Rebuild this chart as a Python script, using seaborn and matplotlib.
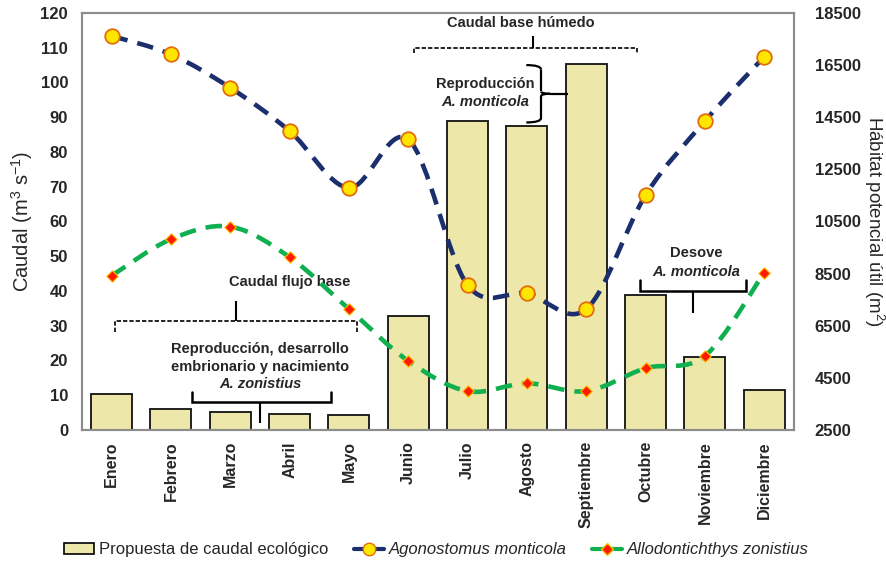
import numpy as np
import matplotlib
matplotlib.use("Agg")
import matplotlib.pyplot as plt
from matplotlib.path import Path
from matplotlib.patches import PathPatch, Patch
from matplotlib.lines import Line2D
import seaborn as sns
import pandas as pd

# data
months = ['Enero', 'Febrero', 'Marzo', 'Abril', 'Mayo', 'Junio', 'Julio',
          'Agosto', 'Septiembre', 'Octubre', 'Noviembre', 'Diciembre']
caudal = [10.3, 6.0, 5.1, 4.6, 4.4, 32.8, 88.9, 87.5, 105.3, 38.8, 21.1, 11.5]
habitat_monticola = [17620, 16910, 15630, 13970, 11790, 13650, 8060, 7740,
                     7140, 11510, 14350, 16820]
habitat_zonistius = [8420, 9820, 10300, 9130, 7140, 5150, 3990, 4290, 3990,
                     4870, 5340, 8540]

left_ticks = list(range(0, 121, 10))
right_ticks = list(range(2500, 18501, 2000))

sns.set_style("white")
plt.rcParams['font.family'] = ['Liberation Sans', 'DejaVu Sans']
plt.rcParams['mathtext.default'] = 'regular'

BAR_COLOR = '#EDE8AA'
NAVY = '#1B2F6E'
GREEN = '#10B050'
LW = 1.6


def smooth_path(xs, ys):
    # excel-like smoothed line: bezier segments through the data points
    pts = np.column_stack([xs, ys]).astype(float)
    n = len(pts)
    verts = [pts[0]]
    codes = [Path.MOVETO]
    for i in range(n - 1):
        p0 = pts[i - 1] if i > 0 else pts[i]
        p1 = pts[i]
        p2 = pts[i + 1]
        p3 = pts[i + 2] if i + 2 < n else pts[i + 1]
        c1 = p1 + (p2 - p0) / 6.0
        c2 = p2 - (p3 - p1) / 6.0
        verts += [c1, c2, p2]
        codes += [Path.CURVE4] * 3
    return Path(verts, codes)


def curve(ax, p0, p1, p2):
    ax.add_patch(PathPatch(Path([p0, p1, p2], [Path.MOVETO, Path.CURVE3, Path.CURVE3]),
                           fill=False, lw=LW, color='black', clip_on=False))


def curly_brace(ax, x, y0, y1, w, tip):
    # "}" shaped brace, opening to the left
    h = y1 - y0
    ym = (y0 + y1) / 2
    xc = x + w
    curve(ax, (x, y1), (xc, y1), (xc, y1 - 0.08 * h))
    ax.plot([xc, xc], [y1 - 0.08 * h, ym + 0.04 * h], color='black', lw=LW,
            solid_capstyle='butt', clip_on=False)
    curve(ax, (xc, ym + 0.04 * h), (xc, ym), (x + 1.6 * w, ym))
    ax.plot([x + 1.6 * w, xc + tip], [ym, ym], color='black', lw=LW,
            solid_capstyle='butt', clip_on=False)
    curve(ax, (x + 1.6 * w, ym), (xc, ym), (xc, ym - 0.04 * h))
    ax.plot([xc, xc], [ym - 0.04 * h, y0 + 0.08 * h], color='black', lw=LW,
            solid_capstyle='butt', clip_on=False)
    curve(ax, (xc, y0 + 0.08 * h), (xc, y0), (x, y0))


def square_bracket(ax, x0, x1, y, end, tick_y, tick_x, ls='-', lw=1.6):
    # horizontal bracket with ends to y+end and a center stem to tick_y
    ax.plot([x0, x0, x1, x1], [y + end, y, y, y + end], color='black',
            lw=lw, ls=ls, clip_on=False, solid_joinstyle='miter')
    ax.plot([tick_x, tick_x], [y, tick_y], color='black', lw=1.5,
            clip_on=False, solid_capstyle='butt')


fig = plt.figure(figsize=(8.87, 5.64), dpi=100)
ax = fig.add_axes([0.0924, 0.2376, 0.8026, 0.7394])

df = pd.DataFrame({'mes': months, 'caudal': caudal})
sns.barplot(data=df, x='mes', y='caudal', color=BAR_COLOR, saturation=1,
            edgecolor='#111111', linewidth=1.3, width=0.69, ax=ax)
ax.set_xlim(-0.5, 11.5)
ax.set_ylim(0, 120)
ax.set_yticks(left_ticks)
ax.set_xlabel('')
ax.set_ylabel('Caudal (m$^3$ s$^{-1}$)', fontsize=14.5, labelpad=4)
ax.tick_params(axis='y', length=0, labelsize=12, pad=10)
ax.tick_params(axis='x', length=0, pad=8)
for lab in ax.get_yticklabels():
    lab.set_fontweight('bold')
for lab in ax.get_xticklabels():
    lab.set_fontweight('bold')
    lab.set_rotation(90)
    lab.set_fontsize(11.5)

ax2 = ax.twinx()
ax2.set_ylim(2500, 18500)
ax2.set_yticks(right_ticks)
ax2.tick_params(axis='y', length=0, labelsize=12, pad=15)
for lab in ax2.get_yticklabels():
    lab.set_fontweight('bold')
ax2.set_ylabel('Hábitat potencial útil (m$^2$)', fontsize=13.5, rotation=270,
               labelpad=18)

for a in (ax, ax2):
    for s in a.spines.values():
        s.set_color('#8C8C8C')
        s.set_linewidth(1.5)

xpos = np.arange(len(months))
for vals, col in ((habitat_monticola, NAVY), (habitat_zonistius, GREEN)):
    ax2.add_patch(PathPatch(smooth_path(xpos, vals), fill=False, edgecolor=col,
                            lw=3.3, ls=(0, (3.6, 2.2)), capstyle='butt'))

sns.scatterplot(x=xpos, y=habitat_monticola, marker='o', s=110, color='#FFE600',
                edgecolor='#E46C0A', linewidth=1.3, ax=ax2, zorder=5)
sns.scatterplot(x=xpos, y=habitat_zonistius, marker='D', s=34, color='#FF1A00',
                edgecolor='#FFC000', linewidth=0.8, ax=ax2, zorder=5)

# annotations (left-axis data coordinates)
FS = 10.5
ax.text(6.9, 117.0, 'Caudal base húmedo', ha='center', va='center',
        fontsize=FS, fontweight='bold')
square_bracket(ax, 5.1, 8.85, 109.8, -1.2, 113.5, 7.1, ls=(0, (2.6, 1.2)), lw=1.2)

ax.text(6.3, 99.5, 'Reproducción', ha='center', va='center', fontsize=FS,
        fontweight='bold')
ax.text(6.3, 94.3, 'A. monticola', ha='center', va='center', fontsize=FS,
        fontweight='bold', style='italic')
curly_brace(ax, 6.99, 88.5, 105.0, 0.25, 0.46)

ax.text(3.0, 42.5, 'Caudal flujo base', ha='center', va='center',
        fontsize=FS, fontweight='bold')
square_bracket(ax, 0.05, 4.14, 31.4, -3.2, 37.2, 2.1, ls=(0, (2.6, 1.2)), lw=1.2)

ax.text(2.5, 23.3, 'Reproducción, desarrollo', ha='center', va='center',
        fontsize=FS, fontweight='bold')
ax.text(2.5, 18.2, 'embrionario y nacimiento', ha='center', va='center',
        fontsize=FS, fontweight='bold')
ax.text(2.5, 13.3, 'A. zonistius', ha='center', va='center', fontsize=FS,
        fontweight='bold', style='italic')
square_bracket(ax, 1.35, 3.7, 8.0, 2.8, 2.0, 2.5, lw=1.8)

ax.text(9.85, 50.8, 'Desove', ha='center', va='center', fontsize=FS,
        fontweight='bold')
ax.text(9.85, 45.5, 'A. monticola', ha='center', va='center', fontsize=FS,
        fontweight='bold', style='italic')
square_bracket(ax, 8.9, 10.7, 40.0, 3.3, 33.8, 9.8, lw=1.8)

handles = [
    Patch(facecolor=BAR_COLOR, edgecolor='black', linewidth=1.2),
    Line2D([], [], color=NAVY, lw=3, marker='o', markersize=9,
           markerfacecolor='#FFE600', markeredgecolor='#E46C0A'),
    Line2D([], [], color=GREEN, lw=3, marker='D', markersize=6,
           markerfacecolor='#FF1A00', markeredgecolor='#FFC000'),
]
labels = ['Propuesta de caudal ecológico', 'Agonostomus monticola',
          'Allodontichthys zonistius']
leg = fig.legend(handles, labels, loc='center', bbox_to_anchor=(0.492, 0.025),
                 ncol=3, frameon=False, handlelength=1.8, handleheight=0.7,
                 handletextpad=0.3, columnspacing=1.5,
                 prop={'size': 12})
for t in leg.get_texts()[1:]:
    t.set_style('italic')

fig.savefig('out.png', dpi=100)
plt.close(fig)
